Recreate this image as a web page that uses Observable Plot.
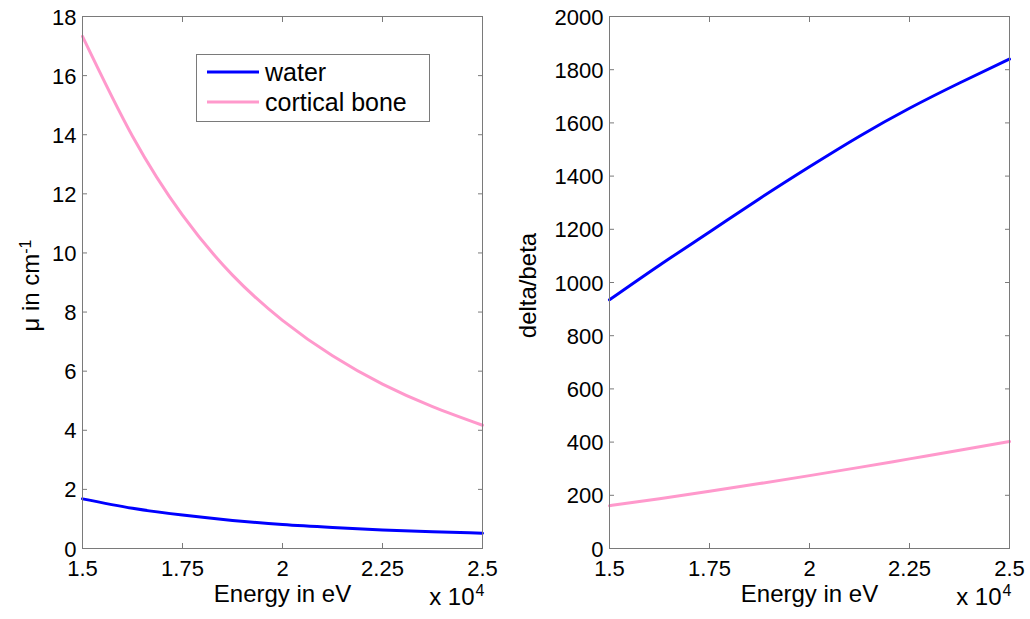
<!DOCTYPE html>
<html><head><meta charset="utf-8">
<script src="https://cdn.jsdelivr.net/npm/d3@7"></script>
<script src="https://cdn.jsdelivr.net/npm/@observablehq/plot@0.6"></script>
<style>
body{margin:0;background:#fff;}
#root{position:relative;width:1030px;height:619px;font-family:"Liberation Sans",Arial,Helvetica,sans-serif;}
#root > svg{position:absolute;top:0;}
</style></head><body><div id="root"></div>
<script>
// Energy in units of 10^4 eV
const energy  = [1.5, 1.625, 1.75, 1.875, 2.0, 2.125, 2.25, 2.375, 2.5];
const muWater = [1.68, 1.36, 1.13, 0.95, 0.81, 0.71, 0.625, 0.565, 0.52];
const muBone  = [17.33, 13.95, 11.28, 9.25, 7.72, 6.52, 5.56, 4.80, 4.17];
const dbWater = [935, 1065, 1190, 1315, 1435, 1550, 1655, 1750, 1840];
const dbBone  = [161, 187, 215, 244, 274, 305, 337, 369, 402];
const seriesNames  = ["water", "cortical bone"];
const seriesColors = ["#0000ff", "#ff99cc"];
const xTicks  = [1.5, 1.75, 2, 2.25, 2.5];
const muTicks = [0, 2, 4, 6, 8, 10, 12, 14, 16, 18];
const dbTicks = [0, 200, 400, 600, 800, 1000, 1200, 1400, 1600, 1800, 2000];

const FONT = '"Liberation Sans", Arial, Helvetica, sans-serif';
const AXC = "#7a7a7a";

function rows(a, b) {
  return energy.flatMap((e, i) => [
    {e, v: a[i], s: seriesNames[0]},
    {e, v: b[i], s: seriesNames[1]}
  ]);
}

function panel({data, yDomain, yTicks, ml, mr, ylabel, labelDx}) {
  return Plot.plot({
    width: 515, height: 619,
    marginLeft: ml, marginRight: mr, marginTop: 16, marginBottom: 71,
    style: {fontFamily: FONT, background: "transparent", overflow: "visible", color: "#000"},
    x: {domain: [1.5, 2.5]},
    y: {domain: yDomain},
    color: {domain: seriesNames, range: seriesColors},
    marks: [
      Plot.axisX({ticks: xTicks, anchor: "bottom", tickSize: -5, fill: null, stroke: AXC, label: null}),
      Plot.axisX({ticks: xTicks, anchor: "top", tickSize: -5, fill: null, stroke: AXC, label: null}),
      Plot.axisY({ticks: yTicks, anchor: "left", tickSize: -5, fill: null, stroke: AXC, label: null}),
      Plot.axisY({ticks: yTicks, anchor: "right", tickSize: -5, fill: null, stroke: AXC, label: null}),
      Plot.axisX({ticks: xTicks, anchor: "bottom", tickSize: 0, tickPadding: 12, stroke: null, fill: "#000",
        fontSize: 22, tickFormat: d => String(d), label: null}),
      Plot.axisY({ticks: yTicks, anchor: "left", tickSize: 0, tickPadding: 6, stroke: null, fill: "#000",
        fontSize: 22, dy: 1, tickFormat: d => String(d), label: null}),
      Plot.line(data, {x: "e", y: "v", z: "s", stroke: "s", strokeWidth: 3, curve: "natural"}),
      Plot.frame({stroke: AXC}),
      Plot.text(["Energy in eV"], {frameAnchor: "bottom", dy: 46, fontSize: 24, lineAnchor: "middle", fill: "#000"}),
      Plot.text(["x 10"], {frameAnchor: "bottom-right", dx: -8, dy: 56, fontSize: 24, textAnchor: "end", fill: "#000"}),
      Plot.text(["4"], {frameAnchor: "bottom-right", dx: -7, dy: 47, fontSize: 16, textAnchor: "start", fill: "#000"}),
      Plot.text([ylabel], {frameAnchor: "left", rotate: -90, dx: labelDx, dy: 3, fontSize: 24,
        textAnchor: "middle", lineAnchor: "bottom", fill: "#000"})
    ]
  });
}

const root = document.getElementById("root");
const left = panel({data: rows(muWater, muBone), yDomain: [0, 18], yTicks: muTicks, ml: 82, mr: 33, ylabel: "\u03bc in cm", labelDx: -44});
const right = panel({data: rows(dbWater, dbBone), yDomain: [0, 2000], yTicks: dbTicks, ml: 94, mr: 21, ylabel: "delta/beta", labelDx: -74});
left.style.left = "0px";
right.style.left = "515px";
root.appendChild(left);
root.appendChild(right);

// superscript on the mu label
d3.select(left).selectAll("text")
  .filter(function() { return this.textContent === "\u03bc in cm"; })
  .append("tspan").attr("dy", "-0.5em").attr("font-size", 16).text("-1");

// legend inside the left axes
const lg = d3.select(root).append("svg")
  .attr("width", 236).attr("height", 70)
  .style("left", "195px").style("top", "53px")
  .style("font-family", FONT);
lg.append("rect").attr("x", 1.5).attr("y", 1.5).attr("width", 233).attr("height", 67)
  .attr("fill", "#fff").attr("stroke", AXC);
seriesNames.forEach((name, i) => {
  const y = 19 + i * 30;
  lg.append("line").attr("x1", 12).attr("x2", 64).attr("y1", y).attr("y2", y)
    .attr("stroke", seriesColors[i]).attr("stroke-width", 3);
  lg.append("text").attr("x", 70).attr("y", y + 9).attr("font-size", 25).attr("fill", "#000").text(name);
});
</script></body></html>
